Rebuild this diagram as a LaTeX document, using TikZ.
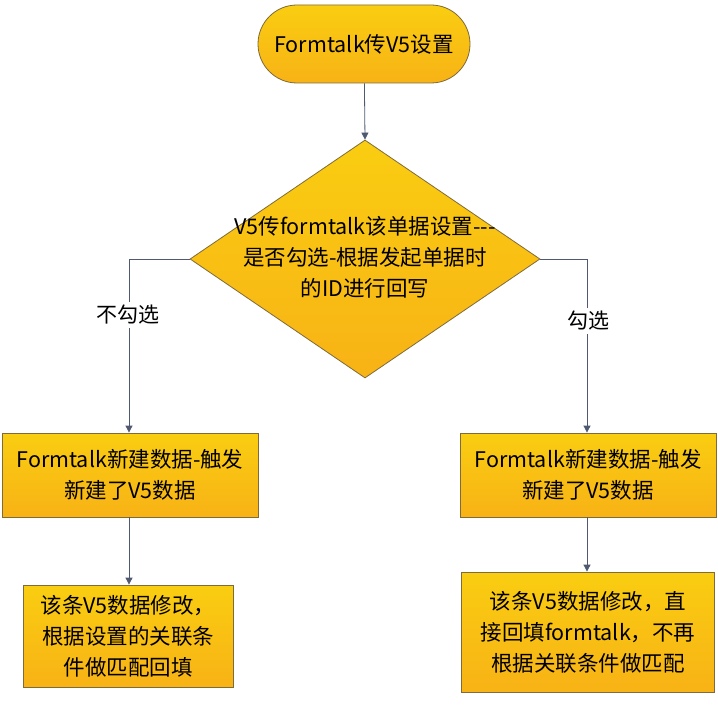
\documentclass[tikz,border=0pt]{standalone}
\usepackage{fontspec}
\setmainfont{Noto Sans CJK SC}
\usetikzlibrary{shapes.geometric,shapes.misc,arrows.meta}
\definecolor{boxfill}{HTML}{F7B818}
\definecolor{boxline}{HTML}{7F6A3A}
\definecolor{arr}{HTML}{4F5A72}
\tikzset{
  base/.style={draw=boxline,line width=0.8pt,top color=boxfill!70!yellow,bottom color=boxfill!90!orange,
    font=\fontsize{21.5}{31}\selectfont,align=center,inner sep=0pt},
  boxx/.style={base,rectangle,minimum width=#1,minimum height=84},
  conn/.style={draw=arr,line width=0.8pt,-{Triangle[length=7pt,width=7pt]}},
  lab/.style={font=\fontsize{21}{26}\selectfont}
}
\begin{document}
\begin{tikzpicture}[x=1pt,y=-1pt]
\useasboundingbox[fill=white] (0,0) rectangle (717,722);
\node[base,rounded rectangle,minimum width=212,minimum height=78] (start) at (364,44) {Formtalk传V5设置};
\node[base,diamond,minimum width=350,minimum height=238,aspect=1.47] (dec) at (365,259) {};
\node[font=\fontsize{21.5}{31}\selectfont,align=center] (dect) at (365,257) {V5传formtalk该单据设置{-}{-}{-}\\是否勾选-根据发起单据时\\的ID进行回写};
\node[boxx=256] (l1) at (130,475) {Formtalk新建数据-触发\\新建了V5数据};
\node[boxx=256] (r1) at (588,475) {Formtalk新建数据-触发\\新建了V5数据};
\node[base,minimum width=210,minimum height=102] (l2) at (128,636) {该条V5数据修改，\\根据设置的关联条\\件做匹配回填};
\node[base,minimum width=253,minimum height=120] (r2) at (588,632) {该条V5数据修改，直\\接回填formtalk，不再\\根据关联条件做匹配};
\coordinate (lc) at (129,259);
\coordinate (rc) at (587,259);
\draw[conn] (start) -- (dec.north);
\draw[conn] (dec.west) -- (lc) -- (l1.north -| lc);
\draw[conn] (dec.east) -- (rc) -- (r1.north -| rc);
\draw[conn] (l1.south -| lc) -- (l2.north -| lc);
\draw[conn] (r1.south -| rc) -- (r2.north -| rc);
\node[lab,fill=white] (nl) at (128,315) {不勾选};
\node[lab,fill=white] (yl) at (588,321) {勾选};
\end{tikzpicture}
\end{document}
